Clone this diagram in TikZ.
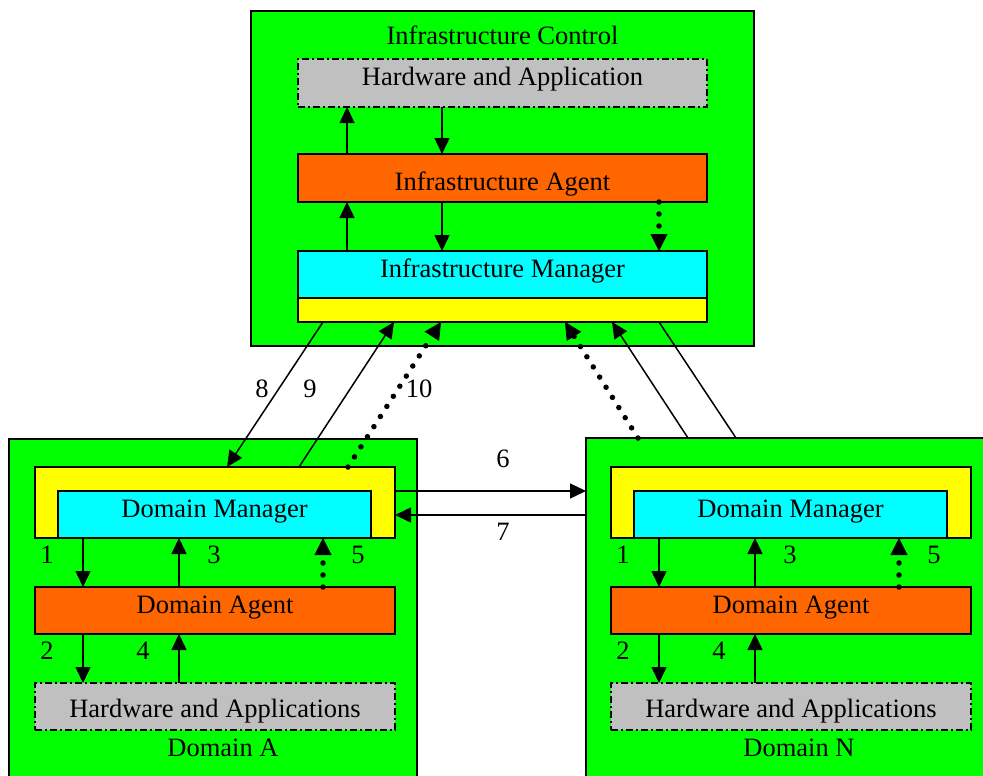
\documentclass[tikz,border=0pt]{standalone}
\usepackage{fontspec}
\setmainfont{Liberation Serif}
\usetikzlibrary{arrows.meta}
\definecolor{grn}{HTML}{00FF00}
\definecolor{ylw}{HTML}{FFFF00}
\definecolor{cyn}{HTML}{00FFFF}
\definecolor{orng}{HTML}{FF6600}
\definecolor{gry}{HTML}{C0C0C0}
\begin{document}
\begin{tikzpicture}[x=1pt,y=-1pt,
  box/.style={draw=black, line width=1.6pt, inner sep=0pt, outer sep=0pt},
  greenbox/.style={box, fill=grn},
  yellowbox/.style={box, fill=ylw},
  mgrbox/.style={box, fill=cyn},
  agentbox/.style={box, fill=orng},
  hwbox/.style={box, fill=gry, line width=1.5pt, dash pattern=on 7pt off 3pt on 2pt off 3pt},
  lbl/.style={font=\fontsize{26.5}{30}\selectfont, anchor=base, inner sep=0pt},
  arr/.style={line width=1.5pt, -{Triangle[length=16pt,width=15pt]}},
  dotarr/.style={line width=5.5pt, line cap=round, dash pattern=on 0pt off 12pt,
    -{Triangle[length=17pt,width=17pt,line width=0.8pt]}},
  plainline/.style={line width=1.5pt}
]
\useasboundingbox (0,0) rectangle (983,776);
\clip (0,0) rectangle (983,776);
\fill[white] (0,0) rectangle (983,776);

% ---------- Infrastructure Control ----------
\node[greenbox, minimum width=503pt, minimum height=335pt] (ic) at (502.5,178.5) {};
\node[hwbox, minimum width=409pt, minimum height=48pt] (hw) at (502.5,83) {};
\node[agentbox, minimum width=409pt, minimum height=48pt] (ia) at (502.5,178) {};
\node[mgrbox, minimum width=409pt, minimum height=47pt] (im) at (502.5,274.5) {};
\node[yellowbox, minimum width=409pt, minimum height=24pt] (ib) at (502.5,310) {};

\node[lbl] (tic) at (502.5,45) {Infrastructure Control};
\node[lbl] (thw) at (502.5,85) {Hardware and Application};
\node[lbl] (tia) at (502.5,190) {Infrastructure Agent};
\node[lbl] (tim) at (502.5,277) {Infrastructure Manager};

% ---------- Domain A ----------
\node[greenbox, minimum width=408pt, minimum height=361pt] (ag) at (213,619.5) {};
\node[yellowbox, minimum width=360pt, minimum height=71pt] (ay) at (215,502.5) {};
\node[mgrbox, minimum width=313pt, minimum height=47pt] (am) at (214.5,514.5) {};
\node[agentbox, minimum width=360pt, minimum height=47pt] (aa) at (215,610.5) {};
\node[hwbox, minimum width=360pt, minimum height=47pt] (ah) at (215,706.5) {};

\node[lbl] (tam) at (214.5,517) {Domain Manager};
\node[lbl] (taa) at (215,613) {Domain Agent};
\node[lbl] (tah) at (215,717) {Hardware and Applications};
\node[lbl] (tag) at (223,756) {Domain A};

% ---------- Domain N ----------
\node[greenbox, minimum width=414pt, minimum height=362pt] (ng) at (793,619) {};
\node[yellowbox, minimum width=360pt, minimum height=71pt] (ny) at (791,502.5) {};
\node[mgrbox, minimum width=313pt, minimum height=47pt] (nm) at (790.5,514.5) {};
\node[agentbox, minimum width=360pt, minimum height=47pt] (na) at (791,610.5) {};
\node[hwbox, minimum width=360pt, minimum height=47pt] (nh) at (791,706.5) {};

\node[lbl] (tnm) at (790.5,517) {Domain Manager};
\node[lbl] (tna) at (791,613) {Domain Agent};
\node[lbl] (tnh) at (791,717) {Hardware and Applications};
\node[lbl] (tng) at (799,756) {Domain N};

% ---------- arrows inside Infrastructure Control ----------
\draw[arr] ([xshift=49pt]ia.north west) -- ([xshift=49pt]hw.south west);
\draw[arr] ([xshift=144pt]hw.south west) -- ([xshift=144pt]ia.north west);
\draw[arr] ([xshift=49pt]im.north west) -- ([xshift=49pt]ia.south west);
\draw[arr] ([xshift=144pt]ia.south west) -- ([xshift=144pt]im.north west);
\draw[dotarr] ([xshift=361pt]ia.south west) -- ([xshift=361pt]im.north west);

% ---------- arrows inside domains ----------
\foreach \d/\y/\a/\h in {a/ay/aa/ah, n/ny/na/nh} {
  \draw[arr] ([xshift=48pt]\y.south west) -- ([xshift=48pt]\a.north west);
  \draw[arr] ([xshift=144pt]\a.north west) -- ([xshift=144pt]\y.south west);
  \draw[dotarr] ([xshift=288pt]\a.north west) -- ([xshift=288pt]\y.south west);
  \draw[arr] ([xshift=48pt]\a.south west) -- ([xshift=48pt]\h.north west);
  \draw[arr] ([xshift=144pt]\h.north west) -- ([xshift=144pt]\a.south west);
}
\node[lbl] (l1a) at (47,563) {1};
\node[lbl] (l3a) at (214,563) {3};
\node[lbl] (l5a) at (358,563) {5};
\node[lbl] (l2a) at (47,659) {2};
\node[lbl] (l4a) at (143,659) {4};
\node[lbl] (l1n) at (623,563) {1};
\node[lbl] (l3n) at (790,563) {3};
\node[lbl] (l5n) at (934,563) {5};
\node[lbl] (l2n) at (623,659) {2};
\node[lbl] (l4n) at (719,659) {4};

% ---------- connectors between domains ----------
\draw[arr] ([yshift=-24pt]ay.north east) -- ([yshift=-53pt]ng.north west);
\draw[arr] ([yshift=-77pt]ng.north west) -- ([yshift=-48pt]ay.north east);
\node[lbl] (l6) at (503,467) {6};
\node[lbl] (l7) at (503,540) {7};

% ---------- connectors to Infrastructure Control ----------
\draw[arr] ([xshift=25pt]ib.south west) -- ([xshift=192pt]ay.north west);
\draw[arr] ([xshift=264pt]ay.north west) -- ([xshift=96pt]ib.south west);
\draw[dotarr] ([xshift=313pt]ay.north west) -- ([xshift=143pt]ib.south west);
\node[lbl] (l8) at (262,397) {8};
\node[lbl] (l9) at (310,397) {9};
\node[lbl] (l10) at (419,397) {10};

\draw[dotarr] ([xshift=52pt]ng.north west) -- ([xshift=267pt]ib.south west);
\draw[arr] ([xshift=102pt]ng.north west) -- ([xshift=314pt]ib.south west);
\draw[plainline] ([xshift=150pt]ng.north west) -- ([xshift=361pt]ib.south west);
\end{tikzpicture}
\end{document}
